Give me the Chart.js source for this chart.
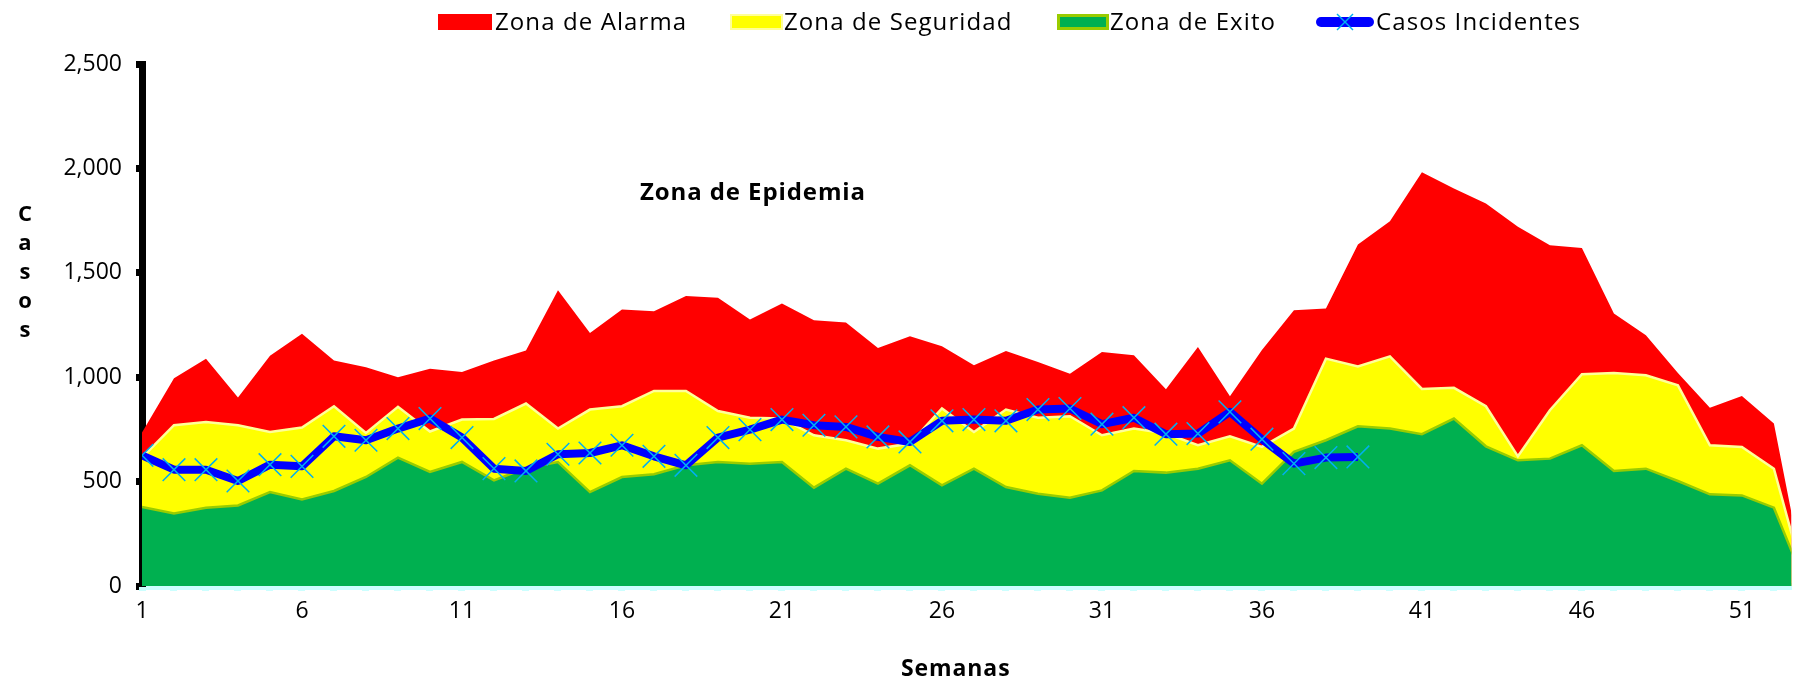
<!DOCTYPE html>
<html>
<head>
<meta charset="utf-8">
<title>Canal endémico</title>
<script src="https://cdn.jsdelivr.net/npm/chart.js@4.4.0/dist/chart.umd.min.js"></script>
<style>
  body { margin: 0; background: #fff; font-family: 'Open Sans', sans-serif; color: #000; }
  #wrap { position: relative; width: 1809px; height: 680px; overflow: hidden; }
  #chart { position: absolute; left: 0; top: 0; }
  .lg-box { position: absolute; top: 14px; height: 16px; box-sizing: border-box; }
  .lg-txt { position: absolute; top: 5px; font-size: 24px; line-height: 32px; white-space: nowrap; letter-spacing: 1.1px; }
  .note { position: absolute; font-weight: bold; white-space: nowrap; }
</style>
</head>
<body>
<div id="wrap">
  <canvas id="chart" width="1809" height="680"></canvas>

  <!-- legend, laid out like the original -->
  <div class="lg-box" style="left:438px; width:54px; background:#ff0000;"></div>
  <div class="lg-txt" style="left:495px;">Zona de Alarma</div>
  <div class="lg-box" style="left:730px; width:53px; background:#ffff00; border:2px solid #ffff99;"></div>
  <div class="lg-txt" style="left:784px;">Zona de Seguridad</div>
  <div class="lg-box" style="left:1057px; width:52px; background:#00b050; border:3px solid #99cc00;"></div>
  <div class="lg-txt" style="left:1110px;">Zona de Exito</div>
  <svg style="position:absolute; left:1314px; top:10px;" width="62" height="24">
    <line x1="7" y1="12" x2="55" y2="12" stroke="#0000ff" stroke-width="10" stroke-linecap="round"/>
    <line x1="23" y1="4" x2="39" y2="20" stroke="#00b0f0" stroke-width="1.5"/>
    <line x1="39" y1="4" x2="23" y2="20" stroke="#00b0f0" stroke-width="1.5"/>
  </svg>
  <div class="lg-txt" style="left:1376px;">Casos Incidentes</div>

  <!-- titles -->
  <div class="note" style="left:13px; top:198px; width:24px; text-align:center; font-size:22px; line-height:29px;">C<br>a<br>s<br>o<br>s</div>
  <div class="note" style="left:640px; top:174px; font-size:24px; letter-spacing:0.9px;">Zona de Epidemia</div>
  <div class="note" style="left:901px; top:651px; font-size:23px; letter-spacing:0.9px;">Semanas</div>
</div>

<script>
// Semanas epidemiológicas
const semanas = [1, 2, 3, 4, 5, 6, 7, 8, 9, 10, 11, 12, 13, 14, 15, 16, 17, 18, 19, 20,
  21, 22, 23, 24, 25, 26, 27, 28, 29, 30, 31, 32, 33, 34, 35, 36, 37, 38, 39, 40,
  41, 42, 43, 44, 45, 46, 47, 48, 49, 50, 51, 52, 53];

// Etiquetas visibles en el eje X
const etiquetasX = [1, 6, 11, 16, 21, 26, 31, 36, 41, 46, 51];

// Zonas del canal endémico (limite superior de cada zona)
const zonaAlarma = [735, 995, 1088, 903, 1103, 1208, 1080, 1048, 1000, 1040,
  1025, 1080, 1128, 1417, 1212, 1324, 1316, 1389, 1380, 1276,
  1353, 1273, 1262, 1140, 1196, 1148, 1057, 1126, 1073, 1017,
  1121, 1105, 942, 1145, 909, 1130, 1321, 1329, 1635, 1747,
  1982, 1904, 1832, 1720, 1632, 1619, 1305, 1201, 1020, 854,
  910, 778, 0];

const zonaSeguridad = [615, 770, 786, 770, 738, 759, 861, 733, 858, 740,
  797, 800, 874, 754, 845, 861, 934, 934, 838, 806,
  802, 722, 698, 658, 682, 850, 738, 845, 806, 813,
  722, 754, 730, 674, 717, 666, 754, 1089, 1052, 1100,
  944, 949, 861, 621, 842, 1014, 1020, 1009, 961, 674,
  666, 562, 0];

const zonaExito = [378, 347, 375, 386, 450, 414, 455, 522, 615, 546,
  594, 506, 565, 594, 450, 522, 535, 578, 594, 586,
  594, 471, 562, 490, 578, 482, 562, 474, 442, 423,
  458, 551, 543, 562, 602, 490, 642, 698, 765, 754,
  727, 802, 669, 602, 610, 674, 551, 562, 503, 439,
  434, 375, 0];

// Casos incidentes (semanas 1 a 39)
const casosIncidentes = [626, 557, 557, 503, 581, 573, 717, 698, 754, 802,
  711, 562, 551, 631, 637, 674, 621, 578, 711, 749,
  797, 770, 762, 714, 690, 791, 797, 791, 845, 850,
  775, 806, 727, 730, 834, 703, 586, 615, 618];

const ticksY = [0, 500, 1000, 1500, 2000, 2500];

// helper to pair weeks with values
function toPoints(values) {
  return values.map((v, i) => ({ x: semanas[i], y: v }));
}

Chart.defaults.font.family = "'Open Sans', sans-serif";
Chart.defaults.color = '#000';

const ctx = document.getElementById('chart').getContext('2d');

new Chart(ctx, {
  type: 'line',
  data: {
    datasets: [
      {
        label: 'Zona de Alarma',
        data: toPoints(zonaAlarma),
        backgroundColor: '#ff0000',
        borderColor: '#ff0000',
        borderWidth: 0,
        fill: 'origin',
        pointRadius: 0,
        tension: 0,
        order: 4
      },
      {
        label: 'Zona de Seguridad',
        data: toPoints(zonaSeguridad),
        backgroundColor: '#ffff00',
        borderColor: '#ffff99',
        borderWidth: 2.5,
        fill: 'origin',
        pointRadius: 0,
        tension: 0,
        order: 3
      },
      {
        label: 'Zona de Exito',
        data: toPoints(zonaExito),
        backgroundColor: '#00b050',
        borderColor: '#99cc00',
        borderWidth: 2.5,
        fill: 'origin',
        pointRadius: 0,
        tension: 0,
        order: 2
      },
      {
        label: 'Casos Incidentes',
        data: toPoints(casosIncidentes),
        borderColor: '#0000ff',
        backgroundColor: '#0000ff',
        borderWidth: 8,
        borderJoinStyle: 'round',
        fill: false,
        tension: 0,
        pointStyle: 'crossRot',
        pointRadius: 16,
        pointBorderColor: '#00b0f0',
        pointBorderWidth: 1.5,
        order: 1
      }
    ]
  },
  options: {
    responsive: false,
    animation: false,
    layout: { padding: { top: 64, right: 0, bottom: 0, left: 0 } },
    plugins: {
      legend: { display: false },
      tooltip: { enabled: false }
    },
    scales: {
      x: {
        type: 'linear',
        min: 1,
        max: 52.55,
        afterFit: scale => { scale.height = 94; },
        ticks: {
          stepSize: 1,
          autoSkip: false,
          includeBounds: false,
          maxRotation: 0,
          padding: 7,
          font: { size: 23 },
          color: '#000',
          callback: v => etiquetasX.includes(v) ? String(v) : ''
        },
        grid: {
          drawOnChartArea: false,
          drawTicks: true,
          tickLength: 5,
          tickWidth: 7,
          tickColor: '#ccffff'
        },
        border: { display: true, color: '#ccffff', width: 7 }
      },
      y: {
        min: 0,
        max: 2500,
        afterFit: scale => { scale.width = 142; },
        afterBuildTicks: scale => { scale.ticks = ticksY.map(v => ({ value: v })); },
        ticks: {
          padding: 14,
          font: { size: 23 },
          color: '#000',
          callback: v => v.toLocaleString('en-US')
        },
        grid: {
          drawOnChartArea: false,
          drawTicks: true,
          tickLength: 6,
          tickWidth: 7,
          tickColor: '#000'
        },
        border: { display: true, color: '#000', width: 7 }
      }
    }
  }
});
</script>
</body>
</html>
